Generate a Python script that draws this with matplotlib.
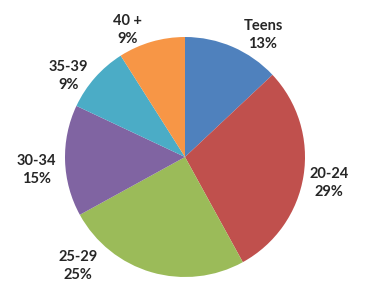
import matplotlib.pyplot as plt

# age group shares, clockwise from 12 o'clock
groups = ['Teens', '20-24', '25-29', '30-34', '35-39', '40 +']
shares = [13, 29, 25, 15, 9, 9]
colors = ['#4F81BD', '#C0504D', '#9BBB59', '#8064A2', '#4BACC6', '#F79646']

# label centres (pie radius units), placed like the original outside-end labels
label_pos = [(0.65, 1.02), (1.20, -0.22), (-0.89, -0.91),
             (-1.24, -0.11), (-0.97, 0.675), (-0.48, 1.06)]

fig = plt.figure(figsize=(3.65, 2.83), dpi=100, facecolor='white')
ax = fig.add_axes([0, 0, 1, 1])

ax.pie(shares, colors=colors, startangle=90, counterclock=False,
       radius=1.0, wedgeprops=dict(linewidth=0))

for name, val, (x, y) in zip(groups, shares, label_pos):
    ax.text(x, y, f'{name}\n{val}%', ha='center', va='center',
            fontsize=10.5, fontweight='bold', family='Lato',
            color='#262626', linespacing=1.35)

ax.set_xlim(-185 / 120, 180 / 120)
ax.set_ylim(-126 / 120, 157 / 120)
ax.set_aspect('auto')
ax.axis('off')

fig.savefig('out.png', dpi=100, facecolor='white')
